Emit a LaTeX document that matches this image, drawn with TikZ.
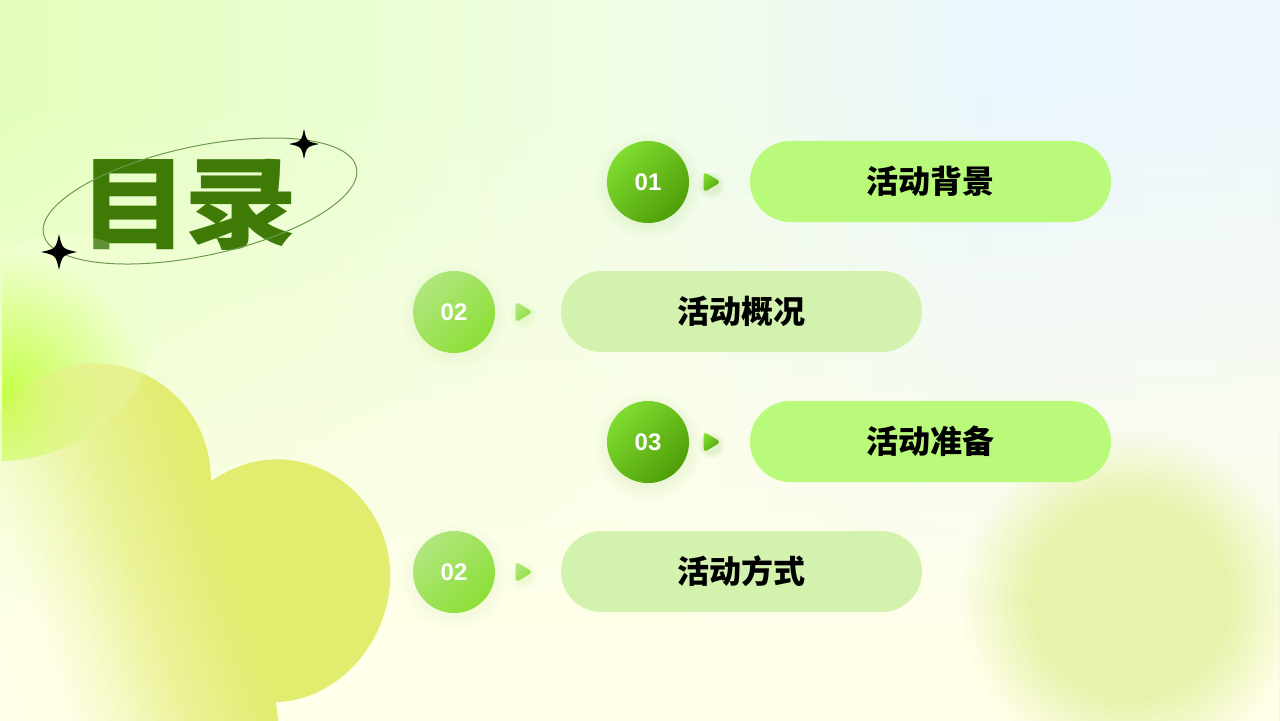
\documentclass[tikz,border=0pt]{standalone}
\usepackage{fontspec}
\usetikzlibrary{fadings,shadings}
\newfontfamily\cjk{Noto Sans CJK SC}
\setmainfont{Liberation Sans}
\definecolor{bgA}{HTML}{E3FFBA}
\definecolor{bgB}{HTML}{F1FDE6}
\definecolor{bgC}{HTML}{EBF6FE}
\definecolor{bgD}{HTML}{EEF7FC}
\definecolor{cream}{HTML}{FFFFEA}
\definecolor{blob}{HTML}{E2EC6E}
\definecolor{softblob}{HTML}{E8F2AA}
\definecolor{lime}{HTML}{B8FF20}
\definecolor{pale}{HTML}{EDFFC6}
\definecolor{titlegreen}{HTML}{3F7A06}
\definecolor{pillA}{HTML}{B9FA7A}
\definecolor{pillB}{HTML}{D2F2AE}
\definecolor{darkA}{HTML}{80DC30}
\definecolor{darkM}{HTML}{56A80A}
\definecolor{darkB}{HTML}{4E9E08}
\definecolor{lightA}{HTML}{B0E67E}
\definecolor{lightM}{HTML}{90E03E}
\definecolor{lightB}{HTML}{8CDF36}
\definecolor{ringc}{HTML}{6E9A50}
\pgfdeclarehorizontalshading{bgh}{100bp}{color(0bp)=(bgA);color(25bp)=(bgA);color(50bp)=(bgB);color(64bp)=(bgC);color(75bp)=(bgD);color(100bp)=(bgD)}
\pgfdeclarehorizontalshading{blobfh}{100bp}{color(0bp)=(transparent!100);color(25bp)=(transparent!100);color(30bp)=(transparent!97);color(36bp)=(transparent!72);color(43.4bp)=(transparent!35);color(54.3bp)=(transparent!0);color(100bp)=(transparent!0)}
\pgfdeclarefading{blobfade}{\pgfuseshading{blobfh}}
\pgfdeclareverticalshading{creamfv}{100bp}{color(0bp)=(transparent!0);color(32bp)=(transparent!0);color(68bp)=(transparent!100);color(100bp)=(transparent!100)}
\pgfdeclarefading{creamfade}{\pgfuseshading{creamfv}}
\pgfdeclareradialshading{softd}{\pgfpointorigin}{color(0bp)=(transparent!0);color(14bp)=(transparent!0);color(25bp)=(transparent!100);color(50bp)=(transparent!100)}
\pgfdeclarefading{softdisc}{\pgfuseshading{softd}}
\tikzset{
  numA/.style={circle,minimum size=41pt,inner sep=0pt,top color=darkA,middle color=darkM,bottom color=darkB,shading angle=45,text=white,font=\bfseries\fontsize{12}{12}\selectfont},
  numB/.style={circle,minimum size=41pt,inner sep=0pt,top color=lightA,middle color=lightM,bottom color=lightB,shading angle=45,text=white,font=\bfseries\fontsize{12}{12}\selectfont},
  pillbase/.style={rectangle,rounded corners=20.25pt,minimum width=180.5pt,minimum height=40.5pt,inner sep=0pt,text=black,font=\cjk\bfseries\fontsize{16}{16}\selectfont},
  pillX/.style={pillbase,fill=pillA},
  pillY/.style={pillbase,fill=pillB},
  softshadow/.style={fill=darkB,opacity=.13,path fading=softdisc,fit fading=true},
  titletext/.style={text=titlegreen,inner sep=0pt,font=\cjk\bfseries\fontsize{52.5}{52.5}\selectfont},
  ring/.style={draw=ringc,line width=.5pt},
  starshape/.style={fill=black}
}
\newcommand{\sparkle}[3]{\fill[starshape] (#1,#2-#3) .. controls (#1+.18*#3,#2-.18*#3) .. (#1+#3,#2) .. controls (#1+.18*#3,#2+.18*#3) .. (#1,#2+#3) .. controls (#1-.18*#3,#2+.18*#3) .. (#1-#3,#2) .. controls (#1-.18*#3,#2-.18*#3) .. cycle;}
\newcommand{\arrowtri}[4]{%
  \fill[#4,opacity=.12,path fading=softdisc,fit fading=true] (#1+7,#2+3) circle (14);
  \shade[top color=#3,bottom color=#4,shading angle=45,rounded corners=2pt] (#1-.5,#2-10.5) -- (#1+17,#2) -- (#1-.5,#2+10.5) -- cycle;}
\begin{document}
\begin{tikzpicture}[x=.5pt,y=-.5pt]
\useasboundingbox (0,0) rectangle (1280,720);
% background
\shade[shading=bgh] (-1,-1) rectangle (1281,721);
\fill[cream,path fading=creamfade,fit fading=true] (-1,-1) rectangle (1281,721);
% bottom-right soft blob
\fill[softblob,path fading=softdisc,fit fading=true] (1130,600) circle (170);
% lime glow
\def\limeshape{(2,252) .. controls (20,243) and (40,236) .. (60,235) .. controls (80,234) and (100,238) .. (115,245) .. controls (136,262) and (152,300) .. (152,335) .. controls (152,400) and (85,458) .. (2,461) -- cycle}
\begin{scope}
  \clip \limeshape;
  \fill[pale] (0,200) rectangle (200,480);
  \shade[inner color=lime,outer color=pale] (2,395) circle (145);
\end{scope}
% big blob
\fill[blob,path fading=blobfade,fit fading=true,fading angle=16] (-22,480) .. controls (-22,415) and (30,363) .. (95,363) .. controls (160,363) and (212,415) .. (211,481) .. controls (232,467) and (254,459) .. (277,459) .. controls (340,459) and (390.5,513) .. (390.5,575) .. controls (390.5,640) and (340,700) .. (276,702) -- (279,725) -- (-22,725) -- cycle;
% title
\node[titletext,anchor=center,xscale=1.04,yscale=.97] (t1) at (134,205) {目};
\node[titletext,anchor=center,xscale=1.08,yscale=.95] (t2) at (241.5,205) {录};
\fill[white,opacity=.18] \limeshape;
\draw[ring,rotate around={12:(200,201)}] (200,201) ellipse (80pt and 27.35pt);
\sparkle{304}{144}{15}
\sparkle{59}{252}{18}
% shadows
\fill[softshadow] (648,186) circle (54);
\fill[softshadow,opacity=.08] (454,316) circle (54);
\fill[softshadow] (648,446) circle (54);
\fill[softshadow,opacity=.08] (454,576) circle (54);
% rows
\node[numA] (n1) at (648,182) {01};
\node[numB] (n2) at (454,312) {02};
\node[numA] (n3) at (648,442) {03};
\node[numB] (n4) at (454,572) {02};
\arrowtri{704}{182}{darkA}{darkB}
\arrowtri{516}{312}{lightA}{lightB}
\arrowtri{704}{442}{darkA}{darkB}
\arrowtri{516}{572}{lightA}{lightB}
\node[pillX] (p1) at (930.5,181.5) {活动背景};
\node[pillY] (p2) at (741.5,311.5) {活动概况};
\node[pillX] (p3) at (930.5,441.5) {活动准备};
\node[pillY] (p4) at (741.5,571.5) {活动方式};
\end{tikzpicture}
\end{document}
